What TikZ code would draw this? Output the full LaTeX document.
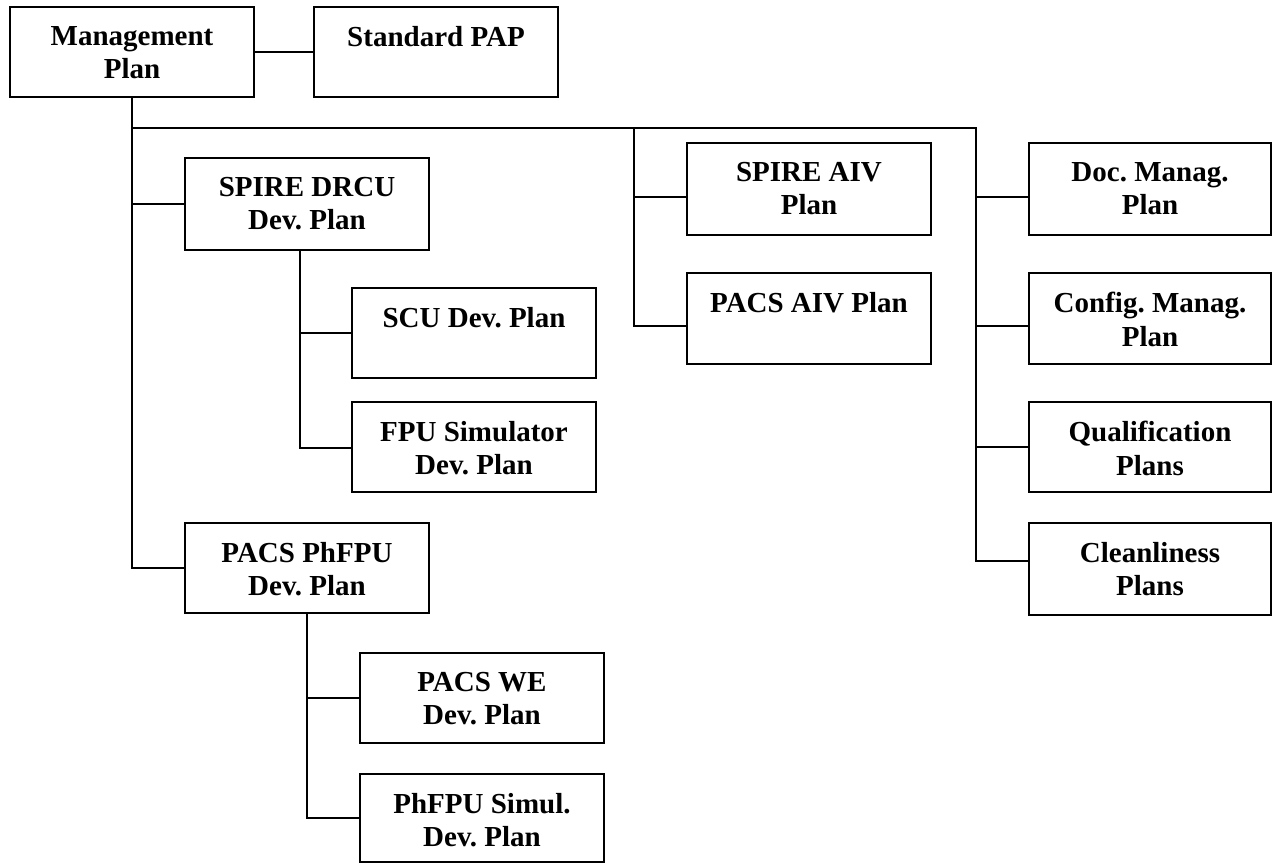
\documentclass[tikz,border=0pt]{standalone}
\usepackage{fontspec}
\setmainfont{Liberation Serif}
\frenchspacing
\newcommand\planbox[6]{%
  \node[box, minimum width={#4-#2}, minimum height={#5-#3}, anchor=north west] (#1) at (#2,#3) {};
  \node[txt, anchor=north] (#1-t) at ([yshift=-19pt]#1.north) {#6};}
\tikzset{
  box/.style={draw=black, line width=2pt, inner sep=0pt, outer sep=0pt, fill=white},
  txt/.style={inner sep=0pt, align=center, font=\fontsize{29}{33.5}\selectfont\bfseries},
  link/.style={draw=black, line width=2pt}
}
\begin{document}
\begin{tikzpicture}[x=1pt, y=-1pt]
\useasboundingbox (0,0) rectangle (1276,864);
\fill[white] (0,0) rectangle (1276,864);

\planbox{mp}{10}{7}{254}{97}{Management\\Plan}
\planbox{sp}{314}{7}{558}{97}{Standard PAP}
\planbox{drcu}{185}{158}{429}{250}{SPIRE DRCU\\Dev. Plan}
\planbox{scu}{352}{288}{596}{378}{SCU Dev. Plan}
\planbox{fpu}{352}{402}{596}{492}{FPU Simulator\\Dev. Plan}
\planbox{phfpu}{185}{523}{429}{613}{PACS PhFPU\\Dev. Plan}
\planbox{we}{360}{653}{604}{743}{PACS WE\\Dev. Plan}
\planbox{sim}{360}{774}{604}{862}{PhFPU Simul.\\Dev. Plan}
\planbox{saiv}{687}{143}{931}{235}{SPIRE AIV\\Plan}
\planbox{paiv}{687}{273}{931}{364}{PACS AIV Plan}
\planbox{doc}{1029}{143}{1271}{235}{Doc. Manag.\\Plan}
\planbox{cfg}{1029}{273}{1271}{364}{Config. Manag.\\Plan}
\planbox{qual}{1029}{402}{1271}{492}{Qualification\\Plans}
\planbox{clean}{1029}{523}{1271}{615}{Cleanliness\\Plans}

% junction coordinates
\coordinate (bus) at (132,128);
\coordinate (busR) at (976,128);
\coordinate (aivx) at (634,128);
\coordinate (a1) at (634,197);
\coordinate (a2) at (634,326);
\coordinate (r1) at (976,197);
\coordinate (r2) at (976,326);
\coordinate (r3) at (976,447);
\coordinate (r4) at (976,561);
\coordinate (d0) at (300,250);
\coordinate (d1) at (300,333);
\coordinate (d2) at (300,448);

% connectors
\draw[link] (mp.east) -- (sp.west);
\draw[link] (mp.south) -- (mp.south |- phfpu.west) -- (phfpu.west);
\draw[link] (mp.south |- drcu.west) -- (drcu.west);
\draw[link] (bus) -- (busR) -- (r4) -- (r4 -| clean.west);
\draw[link] (r1) -- (r1 -| doc.west);
\draw[link] (r2) -- (r2 -| cfg.west);
\draw[link] (r3) -- (r3 -| qual.west);
\draw[link] (aivx) -- (a2) -- (a2 -| paiv.west);
\draw[link] (a1) -- (a1 -| saiv.west);
\draw[link] (d0) -- (d2) -- (d2 -| fpu.west);
\draw[link] (d1) -- (d1 -| scu.west);
\draw[link] (phfpu.south) -- (phfpu.south |- sim.west) -- (sim.west);
\draw[link] (phfpu.south |- we.west) -- (we.west);
\end{tikzpicture}
\end{document}
